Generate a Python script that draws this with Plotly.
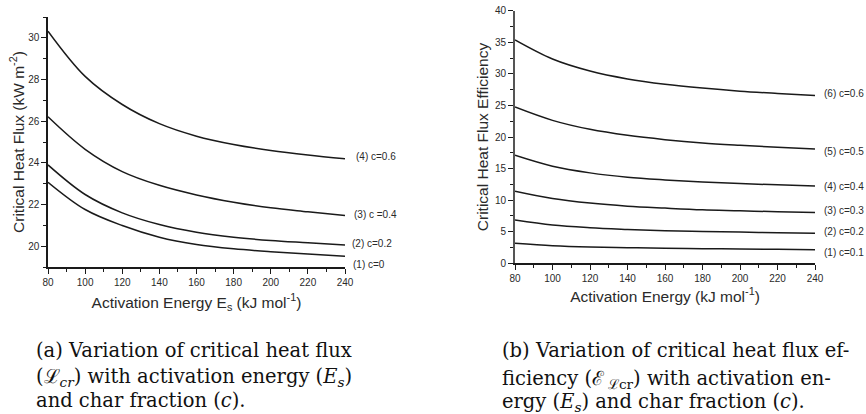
import plotly.graph_objects as go

# ---- data ----
energy = [80, 100, 120, 140, 160, 180, 200, 220, 240]

flux_c0 = [23.07, 21.76, 20.99, 20.43, 20.08, 19.87, 19.73, 19.62, 19.52]
flux_c02 = [23.90, 22.48, 21.60, 21.04, 20.67, 20.43, 20.27, 20.16, 20.05]
flux_c04 = [26.21, 24.65, 23.58, 22.92, 22.46, 22.11, 21.84, 21.65, 21.47]
flux_c06 = [30.32, 28.15, 26.80, 25.88, 25.28, 24.88, 24.59, 24.37, 24.19]
flux_labels = ["(1) c=0", "(2) c=0.2", "(3) c =0.4", "(4) c=0.6"]

eff_c01 = [3.16, 2.79, 2.58, 2.47, 2.37, 2.32, 2.26, 2.21, 2.16]
eff_c02 = [6.84, 6.05, 5.63, 5.37, 5.16, 5.05, 4.95, 4.84, 4.74]
eff_c03 = [11.42, 10.26, 9.53, 9.05, 8.74, 8.47, 8.32, 8.16, 8.05]
eff_c04 = [17.10, 15.37, 14.32, 13.63, 13.21, 12.89, 12.63, 12.42, 12.26]
eff_c05 = [24.74, 22.63, 21.21, 20.26, 19.58, 19.05, 18.68, 18.37, 18.10]
eff_c06 = [35.37, 32.35, 30.45, 29.20, 28.35, 27.74, 27.26, 26.90, 26.58]
eff_labels = ["(1) c=0.1", "(2) c=0.2", "(3) c=0.3", "(4) c=0.4", "(5) c=0.5", "(6) c=0.6"]

x_ticks = [80, 100, 120, 140, 160, 180, 200, 220, 240]
flux_ticks = [20, 22, 24, 26, 28, 30]
eff_ticks = [0, 5, 10, 15, 20, 25, 30, 35, 40]

caption_a = ["(a) Variation of critical heat flux",
             "(ℒ<sub><i>cr</i></sub>) with activation energy (<i>E<sub>s</sub></i>)",
             "and char fraction (<i>c</i>)."]
caption_b = ["(b) Variation of critical heat flux ef-",
             "ficiency (ℰ\u2009<sub>ℒcr</sub>) with activation en-",
             "ergy (<i>E<sub>s</sub></i>) and char fraction (<i>c</i>)."]

# ---- styles ----
LINE = "#1a1a1a"
TXT = "#2a2a2a"
SANS = "Liberation Sans, Arial, sans-serif"
SERIF = "DejaVu Serif, serif"
W, H = 866, 414

flux_series = [flux_c0, flux_c02, flux_c04, flux_c06]
eff_series = [eff_c01, eff_c02, eff_c03, eff_c04, eff_c05, eff_c06]
flux_shift = [(6, -8), (5, 2), (7, 1), (9, 2)]
eff_shift = [(7, -3), (7, 2), (7, 2), (7, -1), (7, -2), (7, 2)]
cap_a_pos = (34, [350, 377, 400])
cap_b_pos = (500, [350, 379, 402])

fig = go.Figure()
annotations = []
lab_font = dict(family=SANS, size=10, color=TXT)

for ys, lab, (dx, dy) in zip(flux_series, flux_labels, flux_shift):
    fig.add_trace(go.Scatter(x=energy, y=ys, mode="lines", xaxis="x", yaxis="y",
                             line=dict(color=LINE, width=1.5, shape="spline", smoothing=1.0),
                             showlegend=False, hoverinfo="skip"))
    annotations.append(dict(x=energy[-1], y=ys[-1], xref="x", yref="y", text=lab,
                            showarrow=False, xanchor="left", yanchor="middle",
                            xshift=dx, yshift=dy, font=lab_font))

for ys, lab, (dx, dy) in zip(eff_series, eff_labels, eff_shift):
    fig.add_trace(go.Scatter(x=energy, y=ys, mode="lines", xaxis="x2", yaxis="y2",
                             line=dict(color=LINE, width=1.5, shape="spline", smoothing=1.0),
                             showlegend=False, hoverinfo="skip"))
    annotations.append(dict(x=energy[-1], y=ys[-1], xref="x2", yref="y2", text=lab,
                            showarrow=False, xanchor="left", yanchor="middle",
                            xshift=dx, yshift=dy, font=lab_font))

cap_font = dict(family=SERIF, size=19.5, color="#111")
for lines, (x0, ys) in [(caption_a, cap_a_pos), (caption_b, cap_b_pos)]:
    for t, yy in zip(lines, ys):
        annotations.append(dict(xref="paper", yref="paper", x=x0 / W, y=(H - yy) / H,
                                xanchor="left", yanchor="middle", align="left",
                                showarrow=False, font=cap_font, text=t))

tickfont = dict(family=SANS, size=10, color=TXT)
titlefont = dict(family=SANS, size=15.5, color=TXT)


def xax(domain, anchor, title, standoff):
    return dict(domain=domain, anchor=anchor, range=[80, 240], tickvals=x_ticks,
                automargin=False,
                showline=True, linecolor=LINE, linewidth=1.5, ticks="outside", ticklen=5,
                tickwidth=1, tickcolor=LINE, showgrid=False, zeroline=False, tickfont=tickfont,
                minor=dict(ticks="outside", ticklen=3, dtick=10, tick0=80, tickcolor=LINE, showgrid=False),
                title=dict(text=title, font=titlefont, standoff=standoff))


def yax(domain, anchor, rng, tv, mdt, title, lc, lw, standoff):
    return dict(domain=domain, anchor=anchor, range=rng, tickvals=tv,
                automargin=False,
                showline=True, linecolor=lc, linewidth=lw, ticks="outside", ticklen=5,
                tickwidth=1, tickcolor=LINE, showgrid=False, zeroline=False, tickfont=tickfont,
                minor=dict(ticks="outside", ticklen=3, dtick=mdt, tick0=0, tickcolor=LINE, showgrid=False),
                title=dict(text=title, font=titlefont, standoff=standoff))


fig.update_layout(
    width=W, height=H, paper_bgcolor="white", plot_bgcolor="white",
    margin=dict(l=0, r=0, t=0, b=0, pad=0),
    xaxis=xax([48 / W, 345 / W], "y", "Activation Energy E<sub>s</sub> (kJ mol<sup>-1</sup>)", 10),
    yaxis=yax([(H - 267) / H, (H - 17) / H], "x", [19, 31], flux_ticks, 1,
              "Critical Heat Flux (kW m<sup>-2</sup>)", LINE, 1.5, 0),
    xaxis2=xax([515 / W, 815 / W], "y2", "Activation Energy (kJ mol<sup>-1</sup>)", 8),
    yaxis2=yax([(H - 263.3) / H, (H - 10.7) / H], "x2", [0, 40], eff_ticks, 2.5,
               "Critical Heat Flux Efficiency", "#555", 2, 2),
    annotations=annotations,
)

fig.write_html("out.html", config={"displayModeBar": False},
               post_script="document.body.style.margin='0';document.body.style.padding='0';"
                           "document.body.style.overflow='hidden';")
